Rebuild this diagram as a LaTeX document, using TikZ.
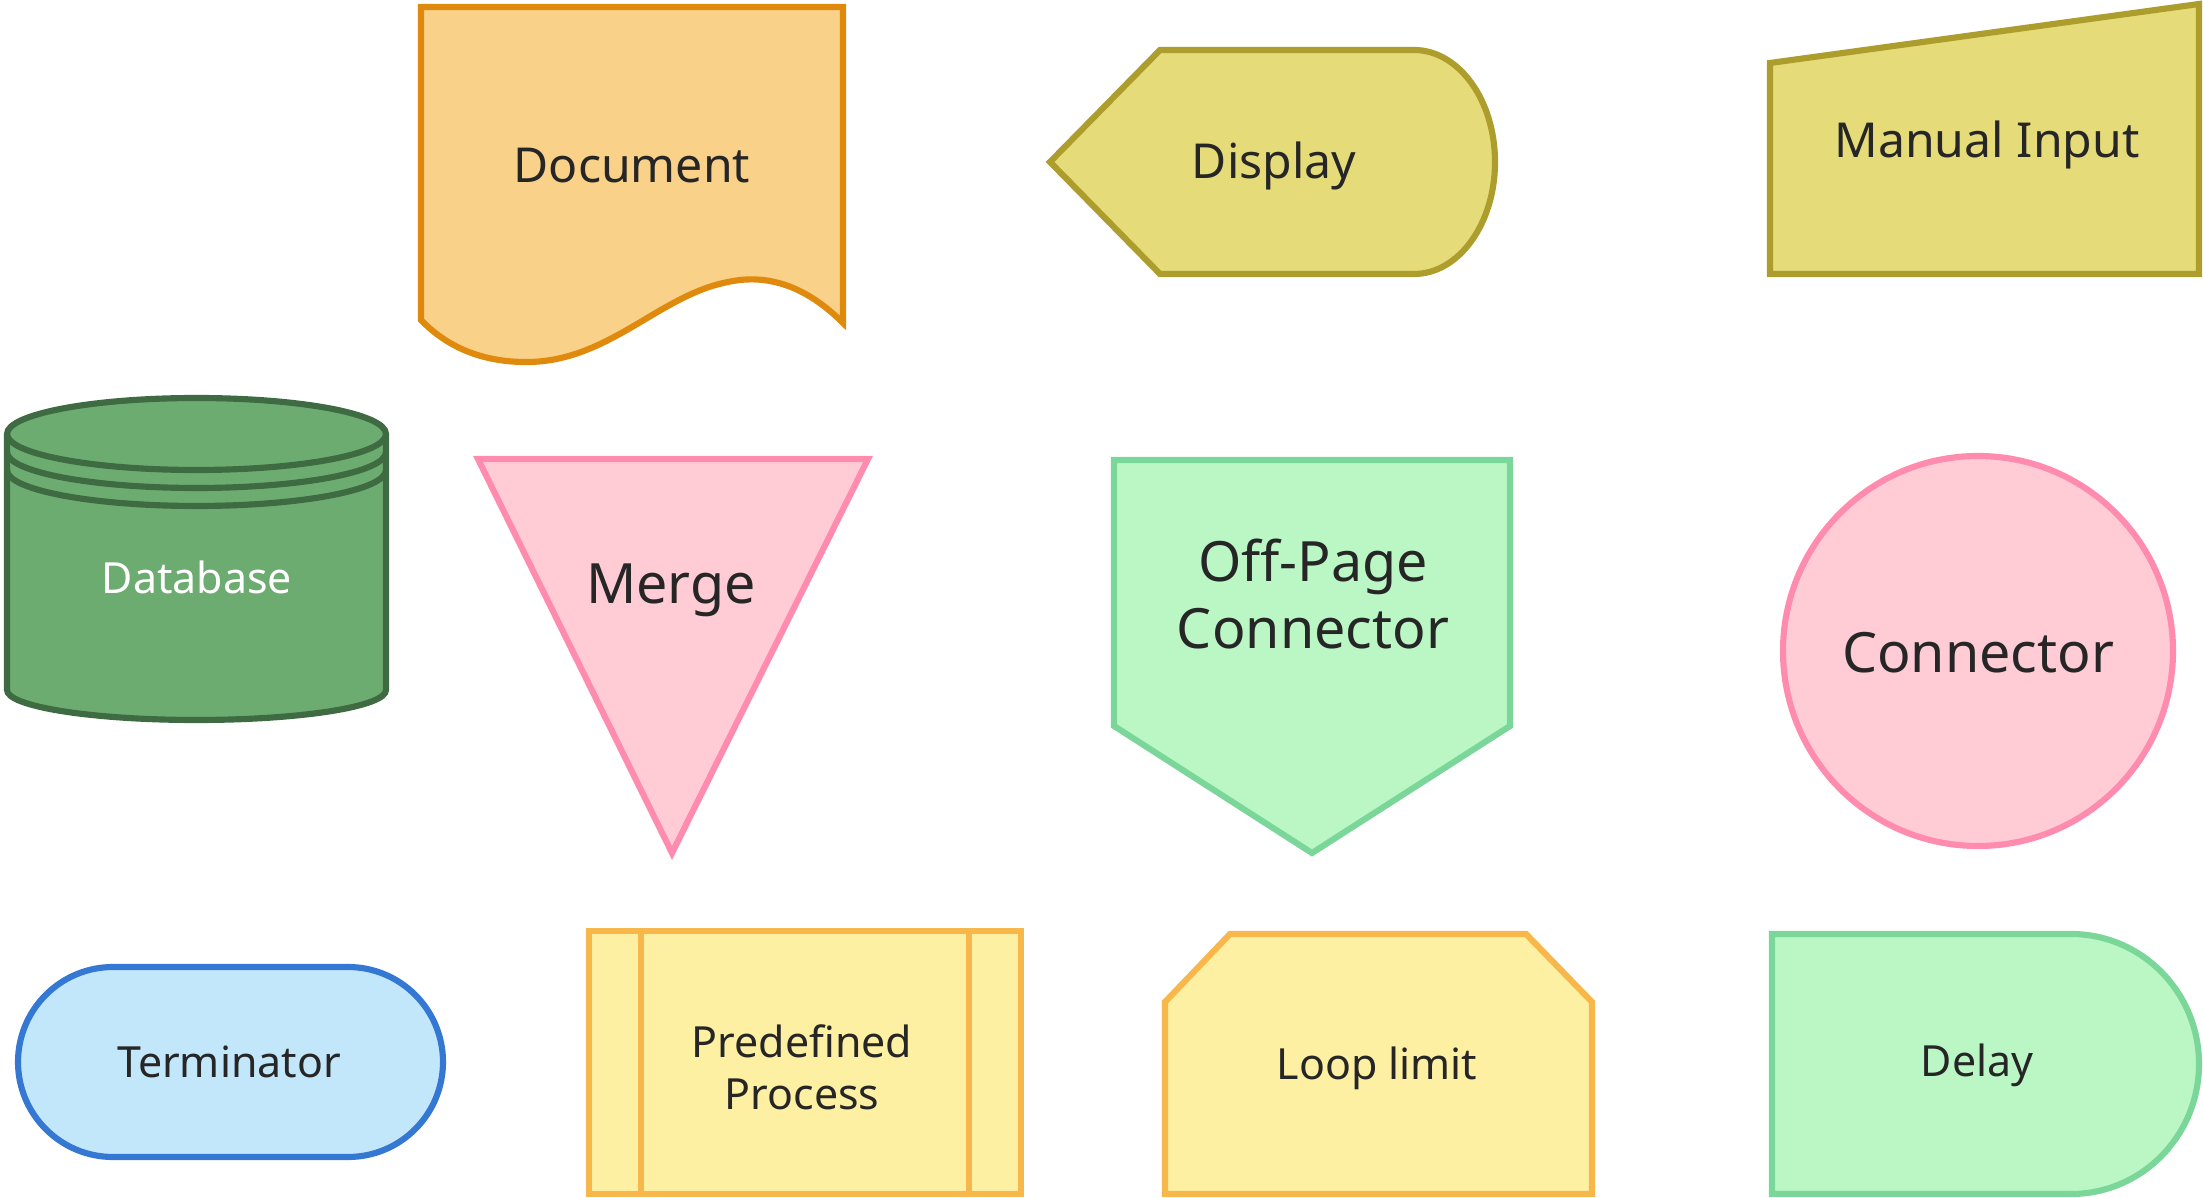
\documentclass[tikz,border=0pt]{standalone}
\usepackage{fontspec}
\setmainfont{Noto Sans}
\usepackage{tikz}
\usetikzlibrary{calc}

\definecolor{doc fill}{HTML}{F9D189}
\definecolor{doc line}{HTML}{DF8A0C}
\definecolor{disp fill}{HTML}{E5DB78}
\definecolor{disp line}{HTML}{AC9D2C}
\definecolor{db fill}{HTML}{6DAC70}
\definecolor{db line}{HTML}{3E6B41}
\definecolor{pink fill}{HTML}{FFCCD6}
\definecolor{pink line}{HTML}{FF8CAF}
\definecolor{mint fill}{HTML}{BBF7C5}
\definecolor{mint line}{HTML}{7BD699}
\definecolor{term fill}{HTML}{C2E7FB}
\definecolor{term line}{HTML}{3478D3}
\definecolor{sand fill}{HTML}{FDF0A3}
\definecolor{sand line}{HTML}{F8B74B}

\tikzset{
	shape line/.style={line width=1.75pt},
	label big/.style={font=\fontsize{15.8}{18.8}\selectfont, text=black!85, align=center},
	label mid/.style={font=\fontsize{13.7}{16}\selectfont, text=black!85, align=center},
	label small/.style={font=\fontsize{12.2}{14.8}\selectfont, text=black!85, align=center}
}

\begin{document}
\begin{tikzpicture}[x=0.01cm, y=-0.01cm]
		\useasboundingbox (0,0) rectangle (2203,1198);
		
		\filldraw [shape line, draw=doc line, fill=doc fill] (421,7) -- (843,7) -- (843,323)
			.. controls (800,280) and (760,275) .. (728,282)
			.. controls (660,295) and (610,360) .. (530,362)
			.. controls (480,363) and (445,345) .. (421,320) -- cycle;
		\node [label mid] (document) at (632,166) {Document};
		
		\filldraw [shape line, draw=disp line, fill=disp fill] (1050,162) -- (1160,50) -- (1414,50)
			arc [start angle=-90, end angle=90, x radius=81, y radius=112] -- (1160,274) -- cycle;
		\node [label mid] (display) at (1274,166) {Display};
		
		\filldraw [shape line, draw=disp line, fill=disp fill] (1770,63) -- (2199,4) -- (2199,274) -- (1770,274) -- cycle;
		\node [label mid] (manual input) at (1987,145) {Manual Input};
		
		\def\rx{189.5};
		\filldraw [shape line, draw=db line, fill=db fill] (7,434) -- (7,690)
			arc [start angle=180, end angle=0, x radius=\rx, y radius=30] -- (386,434)
			arc [start angle=0, end angle=-180, x radius=\rx, y radius=36] -- cycle;
		\begin{scope}[shape line, db line]
			\draw (7,434) arc [start angle=180, end angle=0, x radius=\rx, y radius=36];
			\draw (7,452) arc [start angle=180, end angle=0, x radius=\rx, y radius=36];
			\draw (7,470) arc [start angle=180, end angle=0, x radius=\rx, y radius=36];
		\end{scope}
		\node [label small, text=white] (database) at (197,577) {Database};
		
		\filldraw [shape line, draw=pink line, fill=pink fill] (478,459) -- (868,459) -- (672,853) -- cycle;
		\node [label big] (merge) at (671,590) {Merge};
		
		\filldraw [shape line, draw=mint line, fill=mint fill] (1114,460) -- (1510,460) -- (1510,726) -- (1312,853) -- (1114,726) -- cycle;
		\node [label big] (off page) at (1313,594) {Off-Page\\Connector};
		
		\filldraw [shape line, draw=pink line, fill=pink fill] (1978,651) circle [radius=195];
		\node [label big] (connector) at (1978,653) {Connector};
		
		\filldraw [shape line, draw=term line, fill=term fill] (113,967) -- (348,967)
			arc [start angle=-90, end angle=90, radius=95] -- (113,1157)
			arc [start angle=90, end angle=270, radius=95] -- cycle;
		\node [label small] (terminator) at (229,1062) {Terminator};
		
		\filldraw [shape line, draw=sand line, fill=sand fill] (589,931) rectangle (1021,1194);
		\draw [shape line, sand line] (641,931) -- (641,1194) (969,931) -- (969,1194);
		\node [label small] (predefined) at (802,1067) {Predefined\\Process};
		
		\filldraw [shape line, draw=sand line, fill=sand fill] (1165,1194) -- (1165,1002) -- (1230,934) -- (1526,934) -- (1592,1002) -- (1592,1194) -- cycle;
		\node [label small] (loop limit) at (1377,1068) {Loop limit};
		
		\filldraw [shape line, draw=mint line, fill=mint fill] (1772,934) -- (2071,934)
			arc [start angle=-90, end angle=90, x radius=128, y radius=130] -- (1772,1194) -- cycle;
		\node [label small] (delay) at (1977,1065) {Delay};
	\end{tikzpicture}
\end{document}
